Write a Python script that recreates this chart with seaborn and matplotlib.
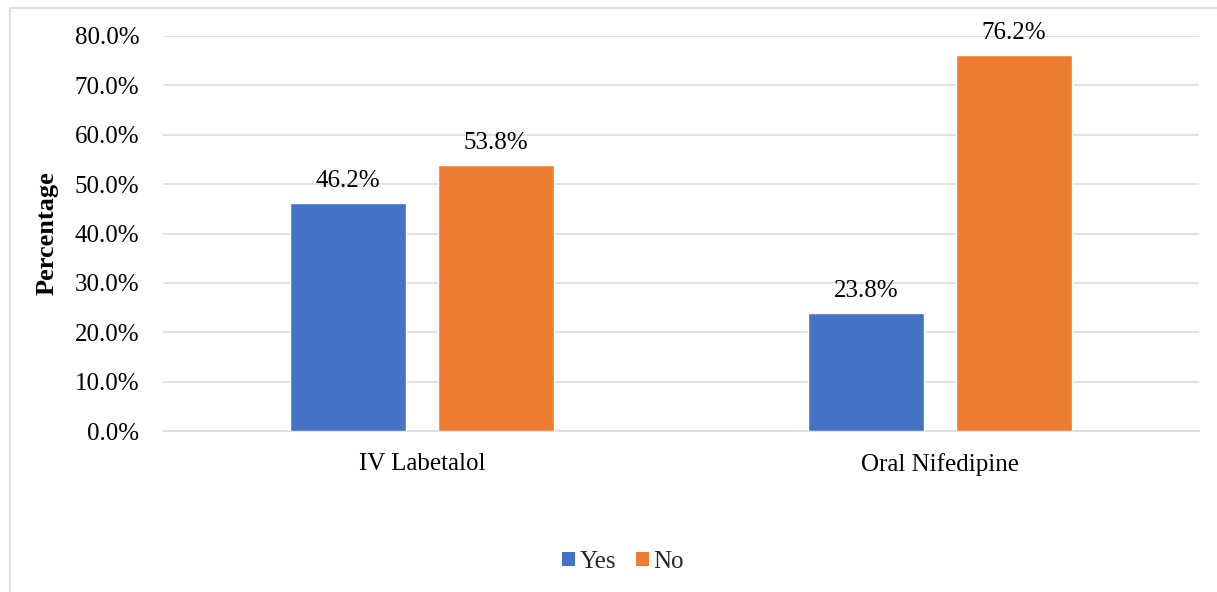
import matplotlib
matplotlib.use("Agg")
import matplotlib.pyplot as plt
from matplotlib.lines import Line2D
from matplotlib.patches import Patch
import pandas as pd
import seaborn as sns

categories = ["IV Labetalol", "Oral Nifedipine"]
series_names = ["Yes", "No"]
yes_values = [46.2, 23.8]
no_values = [53.8, 76.2]
y_ticks = [0, 10, 20, 30, 40, 50, 60, 70, 80]
colors = ["#4472C4", "#ED7D31"]

rows = []
for cat, y, n in zip(categories, yes_values, no_values):
    rows.append({"Drug": cat, "Response": "Yes", "Percentage": y})
    rows.append({"Drug": cat, "Response": "No", "Percentage": n})
df = pd.DataFrame(rows)

sns.set_theme(style="white")
plt.rcParams["font.family"] = ["Liberation Serif", "DejaVu Serif"]

FS = 18

fig = plt.figure(figsize=(12.17, 5.92), dpi=100)
ax = fig.add_axes([163 / 1217, 1 - 431 / 592, 1036 / 1217, (431 - 36) / 592])

sns.barplot(data=df, x="Drug", y="Percentage", hue="Response",
            order=categories, hue_order=series_names,
            palette=colors, width=0.572, gap=0.217,
            saturation=1, errorbar=None, ax=ax, legend=False, zorder=3)

ax.set_xlim(-0.5, 1.5)
ax.set_ylim(0, 80)
ax.set_yticks(y_ticks)
ax.set_yticklabels([f"{v:.1f}%" for v in y_ticks])
ax.yaxis.grid(True, color="#d9d9d9", linewidth=1.1, zorder=0)
ax.set_axisbelow(True)
for s in ["top", "right", "left"]:
    ax.spines[s].set_visible(False)
ax.spines["bottom"].set_color("#d9d9d9")
ax.spines["bottom"].set_linewidth(1.1)
ax.tick_params(axis="y", length=0, pad=17, labelsize=FS, labelcolor="#000000")
ax.tick_params(axis="x", length=0, pad=16, labelsize=FS, labelcolor="#000000")
ax.set_xlabel("")
ax.set_ylabel("Percentage", fontsize=19, fontweight="bold", color="#000000", labelpad=12)

for container in ax.containers:
    ax.bar_label(container, labels=[f"{b.get_height():.1f}%" for b in container],
                 padding=8, fontsize=FS, color="#000000")

handles = [Patch(facecolor=c, edgecolor="none") for c in colors]
fig.legend(handles, series_names, loc="center", bbox_to_anchor=(623 / 1217, 1 - 562 / 592),
           ncol=2, frameon=False, fontsize=FS, handlelength=0.5, handleheight=0.5,
           handletextpad=0.2, columnspacing=0.8)

# chart-area border
fig.add_artist(Line2D([10 / 1217, 10 / 1217], [0, 1 - 8 / 592], transform=fig.transFigure,
                      color="#d9d9d9", linewidth=1.2))
fig.add_artist(Line2D([10 / 1217, 1], [1 - 8 / 592, 1 - 8 / 592], transform=fig.transFigure,
                      color="#d9d9d9", linewidth=1.2))

fig.savefig("out.png", dpi=100)
